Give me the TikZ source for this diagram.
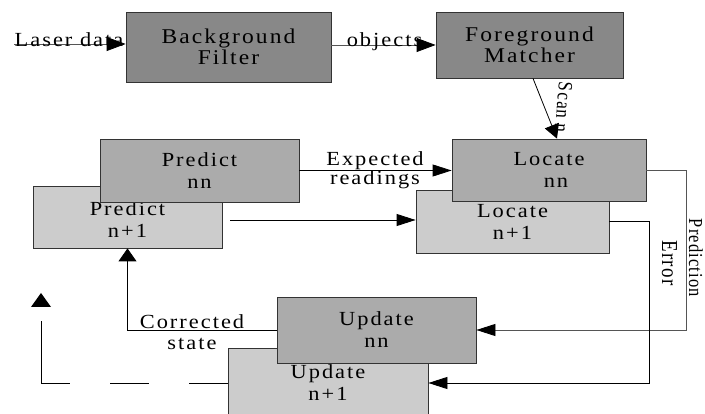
\documentclass[tikz,border=0pt]{standalone}
\usepackage{fontspec}
\setmainfont{Liberation Serif}[FakeStretch=1.12,LetterSpace=10]
\newfontfamily\sidefont{Liberation Serif}[LetterSpace=7]
\usetikzlibrary{arrows.meta}
\definecolor{darkbox}{HTML}{888888}
\definecolor{midbox}{HTML}{ABABAB}
\definecolor{lightbox}{HTML}{CCCCCC}
\definecolor{boxedge}{HTML}{333333}
\definecolor{greyline}{HTML}{555555}
\newcommand{\toppad}[1]{\rule{0pt}{#1}}
\begin{document}
\begin{tikzpicture}[x=1pt,y=-1pt,
  blk/.style={draw=boxedge, line width=0.8pt, rectangle, inner sep=0pt, align=center,
    font=\fontsize{20}{22}\selectfont},
  topblk/.style={blk, fill=darkbox, font=\fontsize{21}{21}\selectfont},
  nnblk/.style={blk, fill=midbox},
  nextblk/.style={blk, fill=lightbox},
  flow/.style={line width=0.8pt, -{Triangle[length=19pt,width=12pt,color=black]}},
  bigflow/.style={line width=0.8pt, -{Triangle[length=19pt,width=14pt,color=black]}},
  vflow/.style={line width=0.8pt, -{Triangle[length=13pt,width=18pt,color=black]}},
  slantflow/.style={line width=0.8pt, -{Triangle[length=14pt,width=15pt,color=black]}},
  lbl/.style={inner sep=0pt, align=center, font=\fontsize{20}{21}\selectfont},
  sidelbl/.style={inner sep=0pt, anchor=base, xscale=1.2, rotate=-90}]
\useasboundingbox[fill=white] (0,0) rectangle (705,414);

% processing blocks
\node[topblk, minimum width=205pt, minimum height=70pt] (bf) at (228.5,47) {Background\\Filter};
\node[topblk, minimum width=187pt, minimum height=66pt] (fm) at (529.5,45) {Foreground\\Matcher};

\node[nextblk, minimum width=189pt, minimum height=62pt] (pn1) at (127.5,217) {\toppad{20pt}Predict\\n+1};
\node[nnblk, minimum width=199pt, minimum height=63pt] (pnn) at (199.5,170.5) {Predict\\nn};

\node[nextblk, minimum width=193pt, minimum height=63pt] (ln1) at (512.5,221.5) {Locate\\n+1};
\node[nnblk, minimum width=194pt, minimum height=62pt] (lnn) at (549,170) {Locate\\\hspace*{14pt}nn};

\node[nextblk, minimum width=200pt, minimum height=70pt] (un1) at (328,383) {Update\\n+1};
\node[nnblk, minimum width=199pt, minimum height=66pt] (unn) at (376.5,330) {Update\\nn};

% input
\coordinate (src) at (14,44);
\draw[bigflow, draw=greyline] (src) -- (src -| bf.west);
\node[lbl, anchor=base] at (69,47) {Laser data};

% filter -> matcher
\draw[bigflow, draw=greyline] ([yshift=2pt]bf.east) -- (fm.west);
\node[lbl, anchor=base] at (384.5,47) {objects};

% matcher -> locate
\draw[slantflow] ([xshift=3.5pt]fm.south) -- ([xshift=8pt]lnn.north);
\node[sidelbl, rotate=-4, font=\sidefont\fontsize{17}{17}\selectfont] at (557,107) {Scan n};

% predict -> locate
\draw[flow] (pnn.east) -- (pnn.east -| lnn.west);
\node[lbl, font=\fontsize{20}{18}\selectfont] at (375,170.5) {Expected\\readings};
\draw[flow] ([xshift=8pt,yshift=-3pt]pn1.east) -- ([yshift=1.5pt]ln1.west);

% locate -> update
\draw[flow, draw=greyline] (lnn.east) -- ++(40,0) |- (unn.east);
\node[sidelbl, font=\sidefont\fontsize{16.5}{17}\selectfont] at (689,258) {Prediction};
\draw[flow] (ln1.east) -- ++(40,0) |- (un1.east);
\node[sidelbl, font=\sidefont\fontsize{19}{19}\selectfont] at (662,263) {Error};

% update -> predict
\draw[vflow] (unn.west) -| (pn1.south);
\node[lbl] at (192,332) {Corrected\\state};

% next-step feedback: dashed run with a detached arrowhead
\coordinate (lx) at (41,0);
\coordinate (corner) at (un1.west -| lx);
\coordinate (tip) at (41,293);
\draw[line width=0.8pt, dash pattern=on 39pt off 40pt] (un1.west) -- (corner);
\draw[line width=0.8pt] (corner) -- ++(0,-62);
\fill (tip) -- ++(10,14) -- ++(-20,0) -- cycle;
\end{tikzpicture}
\end{document}
